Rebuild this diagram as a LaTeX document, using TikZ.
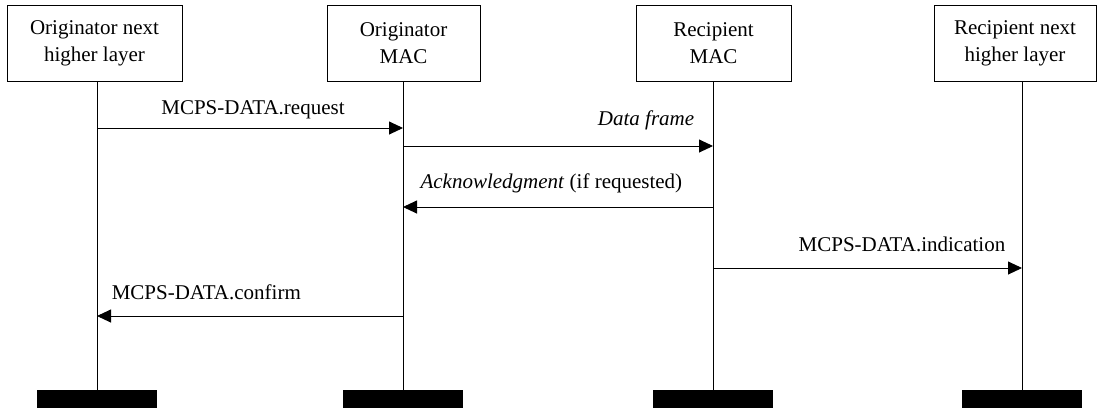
\documentclass[tikz,border=0pt]{standalone}
\usepackage{fontspec}
\setmainfont{Liberation Serif}
\usetikzlibrary{arrows.meta}

\begin{document}
\begin{tikzpicture}[x=1pt, y=-1pt, line width=0.9pt,
		every node/.style={font=\fontsize{21}{27}\selectfont},
		entity/.style={draw, align=center, minimum height=76pt, inner sep=0pt},
		bar/.style={fill=black, minimum width=120pt, minimum height=18pt, inner sep=0pt},
		msg/.style={-{Triangle[length=14pt, width=13pt]}}]
		\useasboundingbox (0,0) rectangle (1097,408);

		\node[entity, minimum width=175pt] (onhl) at (94.5,43) {Originator next\\higher layer};
		\node[entity, minimum width=153pt] (omac) at (403.5,43) {Originator\\MAC};
		\node[entity, minimum width=155pt] (rmac) at (713.5,43) {Recipient\\MAC};
		\node[entity, minimum width=162pt] (rnhl) at (1015,43) {Recipient next\\higher layer};

		\node[bar] (onhlbar) at (97,399) {};
		\node[bar] (omacbar) at (403,399) {};
		\node[bar] (rmacbar) at (713,399) {};
		\node[bar] (rnhlbar) at (1022,399) {};

		\draw (onhlbar.north) -- (onhlbar.north |- onhl.south);
		\draw (omacbar.north) -- (omacbar.north |- omac.south);
		\draw (rmacbar.north) -- (rmacbar.north |- rmac.south);
		\draw (rnhlbar.north) -- (rnhlbar.north |- rnhl.south);

		\coordinate (req a) at (97,128);
		\coordinate (req b) at (403,128);
		\coordinate (frm a) at (403,146);
		\coordinate (frm b) at (713,146);
		\coordinate (ack a) at (713,207);
		\coordinate (ack b) at (403,207);
		\coordinate (ind a) at (713,268);
		\coordinate (ind b) at (1022,268);
		\coordinate (cnf a) at (403,316);
		\coordinate (cnf b) at (97,316);

		\draw[msg] (req a) -- (req b);
		\draw[msg] (frm a) -- (frm b);
		\draw[msg] (ack a) -- (ack b);
		\draw[msg] (ind a) -- (ind b);
		\draw[msg] (cnf a) -- (cnf b);

		\node (lreq) at (253,110) {MCPS-DATA.request};
		\node[anchor=east] (lfrm) at (698,120) {\itshape Data frame};
		\node[anchor=east] (lack) at (686,183) {\textit{Acknowledgment} (if requested)};
		\node[anchor=east] (lind) at (1009,244) {MCPS-DATA.indication};
		\node[anchor=west] (lcnf) at (108,292) {MCPS-DATA.confirm};
	\end{tikzpicture}
\end{document}
